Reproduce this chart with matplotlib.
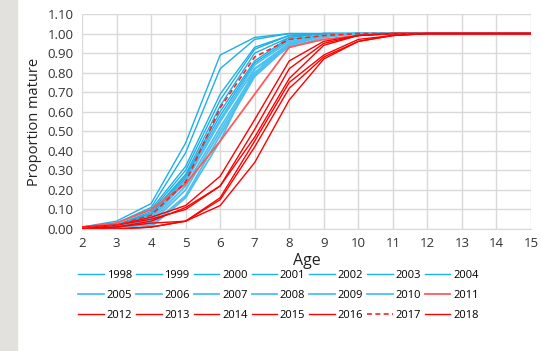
import matplotlib
matplotlib.use("Agg")
import matplotlib.pyplot as plt
from matplotlib.patches import Rectangle

ages = [2, 3, 4, 5, 6, 7, 8, 9, 10, 11, 12, 13, 14, 15]
years = list(range(1998, 2019))

# proportion mature at age, one list per year
p1998 = [0.01, 0.04, 0.13, 0.44, 0.89, 0.98, 1.00, 1.00, 1.00, 1.00, 1.00, 1.00, 1.00, 1.00]
p1999 = [0.01, 0.03, 0.11, 0.39, 0.82, 0.97, 1.00, 1.00, 1.00, 1.00, 1.00, 1.00, 1.00, 1.00]
p2000 = [0.01, 0.03, 0.10, 0.32, 0.69, 0.93, 0.99, 1.00, 1.00, 1.00, 1.00, 1.00, 1.00, 1.00]
p2001 = [0.01, 0.02, 0.09, 0.30, 0.66, 0.92, 0.99, 1.00, 1.00, 1.00, 1.00, 1.00, 1.00, 1.00]
p2002 = [0.01, 0.02, 0.08, 0.28, 0.63, 0.90, 0.98, 1.00, 1.00, 1.00, 1.00, 1.00, 1.00, 1.00]
p2003 = [0.01, 0.02, 0.08, 0.27, 0.60, 0.86, 0.98, 1.00, 1.00, 1.00, 1.00, 1.00, 1.00, 1.00]
p2004 = [0.00, 0.02, 0.07, 0.26, 0.58, 0.85, 0.97, 0.99, 1.00, 1.00, 1.00, 1.00, 1.00, 1.00]
p2005 = [0.00, 0.02, 0.06, 0.25, 0.56, 0.84, 0.96, 0.99, 1.00, 1.00, 1.00, 1.00, 1.00, 1.00]
p2006 = [0.00, 0.01, 0.05, 0.24, 0.55, 0.82, 0.95, 0.99, 1.00, 1.00, 1.00, 1.00, 1.00, 1.00]
p2007 = [0.00, 0.01, 0.04, 0.22, 0.52, 0.80, 0.95, 0.99, 1.00, 1.00, 1.00, 1.00, 1.00, 1.00]
p2008 = [0.00, 0.01, 0.03, 0.20, 0.50, 0.79, 0.94, 0.99, 1.00, 1.00, 1.00, 1.00, 1.00, 1.00]
p2009 = [0.00, 0.01, 0.02, 0.17, 0.48, 0.78, 0.94, 0.99, 1.00, 1.00, 1.00, 1.00, 1.00, 1.00]
p2010 = [0.00, 0.00, 0.01, 0.16, 0.45, 0.82, 0.93, 0.98, 1.00, 1.00, 1.00, 1.00, 1.00, 1.00]
p2011 = [0.01, 0.03, 0.10, 0.23, 0.45, 0.69, 0.93, 0.97, 0.99, 1.00, 1.00, 1.00, 1.00, 1.00]
p2012 = [0.01, 0.02, 0.06, 0.12, 0.27, 0.56, 0.86, 0.96, 0.99, 1.00, 1.00, 1.00, 1.00, 1.00]
p2013 = [0.00, 0.02, 0.05, 0.10, 0.22, 0.51, 0.82, 0.95, 0.99, 1.00, 1.00, 1.00, 1.00, 1.00]
p2014 = [0.00, 0.01, 0.04, 0.11, 0.22, 0.47, 0.77, 0.94, 0.99, 1.00, 1.00, 1.00, 1.00, 1.00]
p2015 = [0.00, 0.01, 0.03, 0.04, 0.16, 0.45, 0.75, 0.89, 0.97, 0.99, 1.00, 1.00, 1.00, 1.00]
p2016 = [0.00, 0.00, 0.01, 0.04, 0.15, 0.42, 0.72, 0.88, 0.96, 0.99, 1.00, 1.00, 1.00, 1.00]
p2017 = [0.01, 0.02, 0.07, 0.24, 0.62, 0.88, 0.97, 0.99, 1.00, 1.00, 1.00, 1.00, 1.00, 1.00]
p2018 = [0.00, 0.00, 0.01, 0.04, 0.12, 0.34, 0.66, 0.87, 0.96, 0.99, 1.00, 1.00, 1.00, 1.00]

series = [p1998, p1999, p2000, p2001, p2002, p2003, p2004, p2005, p2006, p2007,
          p2008, p2009, p2010, p2011, p2012, p2013, p2014, p2015, p2016, p2017, p2018]

plt.rcParams["font.family"] = ["Open Sans", "DejaVu Sans"]

fig = plt.figure(figsize=(5.41, 3.51), dpi=100)
fig.add_artist(Rectangle((0, 0), 17 / 541, 1, transform=fig.transFigure,
                         color="#e3e1de", zorder=0))
ax = fig.add_axes([82 / 541, 1 - 229 / 351, 449 / 541, 215 / 351])

handles = []
for yr, vals in zip(years, series):
    if yr <= 2004:
        kw = dict(color="#1cb0e8", lw=1.0)
    elif yr <= 2010:
        kw = dict(color="#4cc0ee", lw=1.3)
    elif yr == 2011:
        kw = dict(color="#ff5a5a", lw=1.3)
    elif yr == 2017:
        kw = dict(color="#ff2020", lw=1.2, ls=(0, (3, 2)))
    else:
        kw = dict(color="#ff0000", lw=1.0)
    h, = ax.plot(ages, vals, label=str(yr), **kw)
    handles.append(h)

ax.set_xlim(2, 15)
ax.set_ylim(0, 1.1)
ax.set_xticks(ages)
ax.set_yticks([i / 10 for i in range(12)])
ax.set_yticklabels([f"{i / 10:.2f}" for i in range(12)])
ax.grid(True, color="#d9d9d9", lw=1.0)
ax.set_axisbelow(True)
for s in ax.spines.values():
    s.set_visible(False)
ax.spines["bottom"].set_visible(True)
ax.spines["bottom"].set_color("#d9d9d9")
ax.tick_params(length=0, labelsize=9.5, colors="#333333", pad=6)
ax.set_xlabel("Age", fontsize=11.5, color="#222222", labelpad=2)
ax.set_ylabel("Proportion mature", fontsize=10.5, color="#222222", labelpad=4)

# legend fills column-major, so reorder to read row by row
ncol = 7
order = [r * ncol + c for c in range(ncol) for r in range(3)]
ax.legend([handles[i] for i in order], [str(years[i]) for i in order],
          ncol=ncol, loc="upper center", bbox_to_anchor=(0.4376, -0.145),
          frameon=False, fontsize=8, handlelength=2.3, handletextpad=0.25,
          columnspacing=0.35, labelspacing=0.8)

fig.savefig("out.png", dpi=100)
